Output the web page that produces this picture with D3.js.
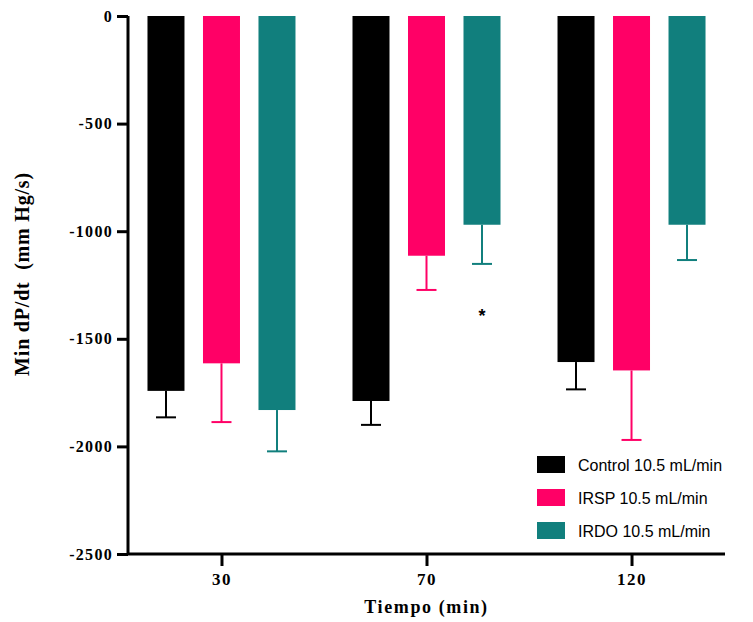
<!DOCTYPE html>
<html>
<head>
<meta charset="utf-8">
<script src="https://cdn.jsdelivr.net/npm/d3@7"></script>
<style>
  html, body { margin: 0; padding: 0; background: #fff; }
  svg { display: block; }
</style>
</head>
<body>
<svg id="chart" width="753" height="622"></svg>
<script>
// Time points (min)
const categories = ["30", "70", "120"];
// Series: mean minimum dP/dt and SEM per time point
const seriesNames = ["Control 10.5 mL/min", "IRSP 10.5 mL/min", "IRDO 10.5 mL/min"];
const controlMean = [-1742, -1789, -1608];
const controlErr  = [123, 111, 127];
const irspMean    = [-1614, -1114, -1647];
const irspErr     = [273, 159, 323];
const irdoMean    = [-1831, -970, -970];
const irdoErr     = [192, 182, 164];
const seriesColors = ["#000000", "#ff0066", "#117f7d"];
const yTicks = [0, -500, -1000, -1500, -2000, -2500];
// Significance marker
const starMark = { category: "70", series: 2, value: -1380, text: "*" };

const series = [
  { name: seriesNames[0], mean: controlMean, err: controlErr, color: seriesColors[0] },
  { name: seriesNames[1], mean: irspMean, err: irspErr, color: seriesColors[1] },
  { name: seriesNames[2], mean: irdoMean, err: irdoErr, color: seriesColors[2] }
];

const svg = d3.select("#chart");
const plotL = 128, plotR = 725, plotT = 16, plotB = 554;

const y = d3.scaleLinear().domain([0, -2500]).range([plotT, plotB]);
const x = d3.scalePoint().domain(categories).range([plotL, plotR]).padding(0.456);
const barW = 37, barStep = 55.5;
const offset = i => (i - 1) * barStep;

// Bars
series.forEach((s, si) => {
  const g = svg.append("g");
  g.selectAll("rect").data(categories).join("rect")
    .attr("x", (c) => x(c) + offset(si) - barW / 2)
    .attr("y", y(0))
    .attr("width", barW)
    .attr("height", (c, i) => y(s.mean[i]) - y(0))
    .attr("fill", s.color);
  // Error bars (downward only)
  g.selectAll("line.v").data(categories).join("line")
    .attr("class", "v")
    .attr("x1", c => x(c) + offset(si)).attr("x2", c => x(c) + offset(si))
    .attr("y1", (c, i) => y(s.mean[i]))
    .attr("y2", (c, i) => y(s.mean[i] - s.err[i]))
    .attr("stroke", s.color).attr("stroke-width", 2);
  g.selectAll("line.cap").data(categories).join("line")
    .attr("class", "cap")
    .attr("x1", c => x(c) + offset(si) - 10).attr("x2", c => x(c) + offset(si) + 10)
    .attr("y1", (c, i) => y(s.mean[i] - s.err[i]))
    .attr("y2", (c, i) => y(s.mean[i] - s.err[i]))
    .attr("stroke", s.color).attr("stroke-width", 2);
});

// Star
svg.append("text")
  .attr("x", x(starMark.category) + offset(starMark.series))
  .attr("y", y(starMark.value) + 9)
  .attr("text-anchor", "middle")
  .attr("font-family", "Liberation Sans, Arial, sans-serif")
  .attr("font-weight", "bold")
  .attr("font-size", 18)
  .text(starMark.text);

// Axes
const axisFont = "Liberation Serif, Times New Roman, serif";
const yAxis = svg.append("g")
  .attr("transform", `translate(${plotL},0)`)
  .call(d3.axisLeft(y).tickValues(yTicks).tickSize(11).tickPadding(4).tickFormat(d => String(d)));
const xAxis = svg.append("g")
  .attr("transform", `translate(0,${plotB})`)
  .call(d3.axisBottom(x).tickSize(12).tickPadding(6));
[yAxis, xAxis].forEach(a => {
  a.select(".domain").attr("stroke", "#000").attr("stroke-width", 3);
  a.selectAll(".tick line").attr("stroke", "#000").attr("stroke-width", 3);
  a.selectAll("text").attr("font-family", axisFont).attr("font-weight", "bold").attr("fill", "#000");
});
yAxis.selectAll("text").attr("font-size", 16).attr("letter-spacing", 1.3);
xAxis.selectAll("text").attr("font-size", 17).attr("letter-spacing", 1.5).attr("dy", "0.75em");
yAxis.select(".domain").attr("d", `M0,${plotT}V${plotB}`);
xAxis.select(".domain").attr("d", `M${plotL},0H${plotR}`);

// Axis titles
svg.append("text")
  .attr("transform", `translate(29,274) rotate(-90)`)
  .attr("text-anchor", "middle")
  .attr("font-family", axisFont).attr("font-weight", "bold").attr("font-size", 20)
  .attr("letter-spacing", 0.8)
  .attr("xml:space", "preserve")
  .text("Min dP/dt  (mm Hg/s)");
svg.append("text")
  .attr("x", x("70"))
  .attr("y", 613)
  .attr("text-anchor", "middle")
  .attr("font-family", axisFont).attr("font-weight", "bold").attr("font-size", 18)
  .attr("letter-spacing", 1.6)
  .text("Tiempo (min)");

// Legend
const legend = svg.append("g").attr("transform", "translate(537,456)");
series.forEach((s, i) => {
  const row = legend.append("g").attr("transform", `translate(0,${i * 33})`);
  row.append("rect").attr("width", 28).attr("height", 17).attr("fill", s.color);
  row.append("text").attr("x", 41).attr("y", 15)
    .attr("font-family", "Liberation Sans, Arial, sans-serif").attr("font-size", 16)
    .attr("fill", "#000").text(s.name);
});
</script>
</body>
</html>
